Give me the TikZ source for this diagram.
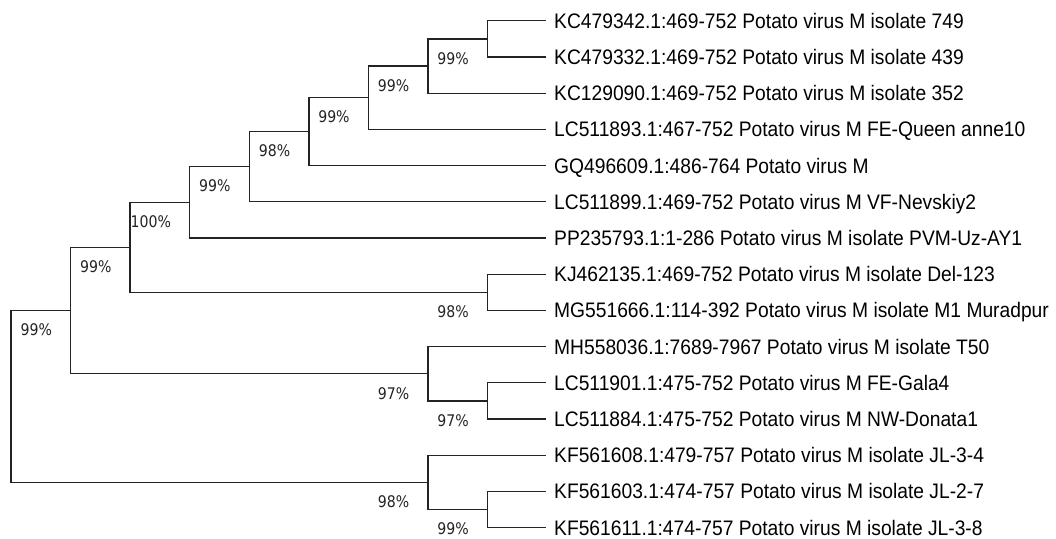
\documentclass[tikz,border=0pt]{standalone}
\usepackage{fontspec}
\newfontfamily\leaffont[FakeStretch=0.916]{Liberation Sans}
\newfontfamily\bootfont[FakeStretch=0.88]{DejaVu Sans}
\definecolor{treegray}{RGB}{35,35,35}
\usetikzlibrary{positioning}

\begin{document}
\begin{tikzpicture}[x=1pt, y=-1pt,
  branch/.style={draw=treegray, line width=1.3pt},
  leaf/.style={anchor=west, inner xsep=8pt, inner ysep=0pt,
               text height=15pt, text depth=0pt, text=black,
               font=\leaffont\fontsize{21pt}{21pt}\selectfont},
  boot/.style={inner sep=0pt, text=treegray,
               font=\bootfont\fontsize{16pt}{16pt}\selectfont}
]
\useasboundingbox (0,0) rectangle (1056,538);

% Taxa
\node[leaf] (l1)  at (546, 20.8)  {KC479342.1:469-752 Potato virus M isolate 749};
\node[leaf] (l2)  at (546, 57.0)  {KC479332.1:469-752 Potato virus M isolate 439};
\node[leaf] (l3)  at (546, 93.2)  {KC129090.1:469-752 Potato virus M isolate 352};
\node[leaf] (l4)  at (546, 129.4) {LC511893.1:467-752 Potato virus M FE-Queen anne10};
\node[leaf] (l5)  at (546, 165.6) {GQ496609.1:486-764 Potato virus M};
\node[leaf] (l6)  at (546, 201.8) {LC511899.1:469-752 Potato virus M VF-Nevskiy2};
\node[leaf] (l7)  at (546, 238.0) {PP235793.1:1-286 Potato virus M isolate PVM-Uz-AY1};
\node[leaf] (l8)  at (546, 274.2) {KJ462135.1:469-752 Potato virus M isolate Del-123};
\node[leaf] (l9)  at (546, 310.4) {MG551666.1:114-392 Potato virus M isolate M1 Muradpur};
\node[leaf] (l10) at (546, 346.6) {MH558036.1:7689-7967 Potato virus M isolate T50};
\node[leaf] (l11) at (546, 382.8) {LC511901.1:475-752 Potato virus M FE-Gala4};
\node[leaf] (l12) at (546, 419.0) {LC511884.1:475-752 Potato virus M NW-Donata1};
\node[leaf] (l13) at (546, 455.2) {KF561608.1:479-757 Potato virus M isolate JL-3-4};
\node[leaf] (l14) at (546, 491.4) {KF561603.1:474-757 Potato virus M isolate JL-2-7};
\node[leaf] (l15) at (546, 527.6) {KF561611.1:474-757 Potato virus M isolate JL-3-8};

% Internal nodes
\coordinate (n1)   at (487.4, 38.9);
\coordinate (n2)   at (427.9, 66.05);
\coordinate (n3)   at (368.3, 97.7);
\coordinate (n4)   at (308.9, 131.65);
\coordinate (n5)   at (249.2, 166.7);
\coordinate (n6)   at (189.7, 202.35);
\coordinate (n7)   at (130.1, 247.3);
\coordinate (n8)   at (70.6, 310.5);
\coordinate (n9)   at (487.4, 292.3);
\coordinate (n10)  at (427.9, 373.75);
\coordinate (n11)  at (487.4, 400.9);
\coordinate (n12)  at (427.9, 482.35);
\coordinate (n13)  at (487.4, 509.5);
\coordinate (root) at (11, 396.4);

% Branches
\draw[branch] (n1) |- (l1.west)  (n1) |- (l2.west);
\draw[branch] (n2) |- (n1)       (n2) |- (l3.west);
\draw[branch] (n3) |- (n2)       (n3) |- (l4.west);
\draw[branch] (n4) |- (n3)       (n4) |- (l5.west);
\draw[branch] (n5) |- (n4)       (n5) |- (l6.west);
\draw[branch] (n6) |- (n5)       (n6) |- (l7.west);
\draw[branch] (n9) |- (l8.west)  (n9) |- (l9.west);
\draw[branch] (n7) |- (n6)       (n7) |- (n9);
\draw[branch] (n11) |- (l11.west) (n11) |- (l12.west);
\draw[branch] (n10) |- (l10.west) (n10) |- (n11);
\draw[branch] (n8) |- (n7)       (n8) |- (n10);
\draw[branch] (n13) |- (l14.west) (n13) |- (l15.west);
\draw[branch] (n12) |- (l13.west) (n12) |- (n13);
\draw[branch] (root) |- (n8)     (root) |- (n12);

% Bootstrap values
\node[boot, below left=13.2pt and 18.5pt of n1]  (b1)  {99\%};
\node[boot, below left=13.2pt and 18.5pt of n2]  (b2)  {99\%};
\node[boot, below left=13.2pt and 18.5pt of n3]  (b3)  {99\%};
\node[boot, below left=13.2pt and 18.5pt of n4]  (b4)  {98\%};
\node[boot, below left=13.2pt and 18.5pt of n5]  (b5)  {99\%};
\node[boot, below left=13.2pt and 18.5pt of n6]  (b6)  {100\%};
\node[boot, below left=13.2pt and 18.5pt of n7]  (b7)  {99\%};
\node[boot, below left=13.2pt and 18.5pt of n8]  (b8)  {99\%};
\node[boot, below left=13.2pt and 18.5pt of n9]  (b9)  {98\%};
\node[boot, below left=13.2pt and 18.5pt of n10] (b10) {97\%};
\node[boot, below left=13.2pt and 18.5pt of n11] (b11) {97\%};
\node[boot, below left=13.2pt and 18.5pt of n12] (b12) {98\%};
\node[boot, below left=13.2pt and 18.5pt of n13] (b13) {99\%};
\end{tikzpicture}
\end{document}
